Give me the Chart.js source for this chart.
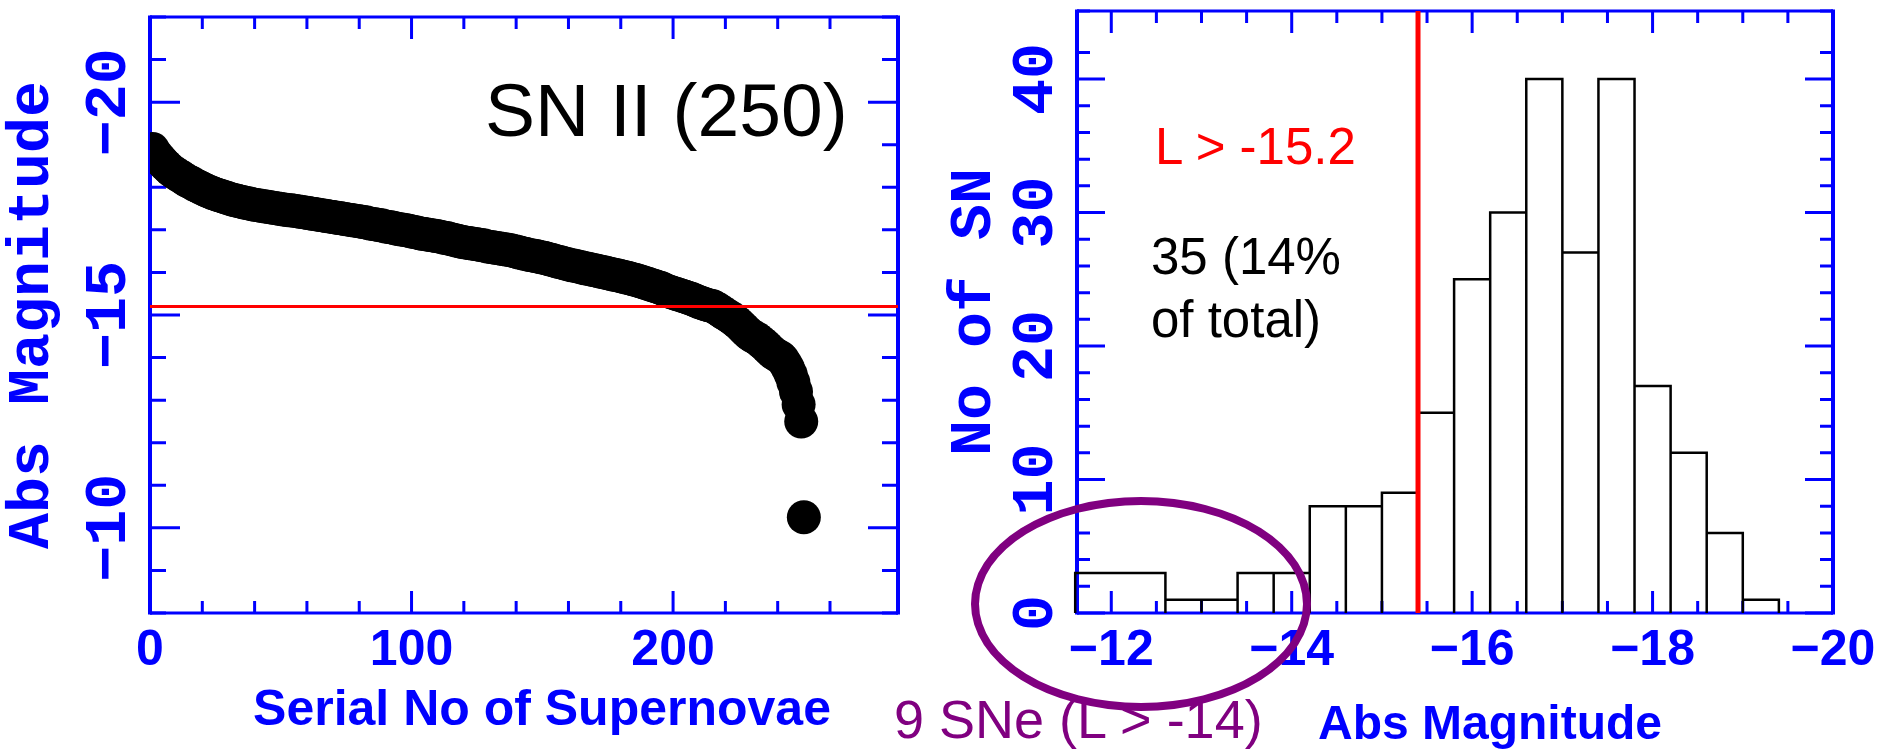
<!DOCTYPE html>
<html>
<head>
<meta charset="utf-8">
<title>SN II absolute magnitudes</title>
<script src="https://cdn.jsdelivr.net/npm/chart.js@4.4.1/dist/chart.umd.min.js"></script>
<style>
  html, body { margin: 0; padding: 0; background: #fff; }
  body { width: 1894px; height: 755px; position: relative; overflow: hidden; }
  canvas { position: absolute; top: 0; }
  #magChart { left: 0; }
  #histChart { left: 900px; }
  .note { position: absolute; font-family: 'Liberation Sans', Arial, sans-serif; white-space: nowrap; line-height: 1; }
  #snTitle { left: 485px; top: 73px; font-size: 75px; color: #000; }
  #cutLabel { left: 1155px; top: 121px; font-size: 51px; color: #ff0000; }
  #fracLabel { left: 1151px; top: 225px; font-size: 51px; line-height: 63px; color: #000; }
  #faintLabel { left: 894px; top: 692px; font-size: 54px; color: #800080; }
  #faintRing { position: absolute; left: 971px; top: 497px; width: 340px; height: 214px;
               box-sizing: border-box; border: 8px solid #800080; border-radius: 50%; }
</style>
</head>
<body>
<canvas id="magChart" width="915" height="755"></canvas>
<canvas id="histChart" width="994" height="755"></canvas>
<div class="note" id="snTitle">SN II (250)</div>
<div class="note" id="cutLabel">L &gt; -15.2</div>
<div class="note" id="fracLabel">35 (14%<br>of total)</div>
<div id="faintRing"></div>
<div class="note" id="faintLabel">9 SNe (L &gt; -14)</div>
<script>
// absolute magnitude of each SN II, sorted brightest first (serial no 1..250)
const magnitudes = [
  -18.90, -18.80, -18.72, -18.65, -18.58, -18.52, -18.46, -18.40, -18.36, -18.32,
  -18.28, -18.24, -18.20, -18.16, -18.13, -18.10, -18.06, -18.03, -18.00, -17.97,
  -17.94, -17.91, -17.89, -17.86, -17.84, -17.82, -17.80, -17.78, -17.76, -17.74,
  -17.72, -17.70, -17.69, -17.67, -17.66, -17.64, -17.63, -17.62, -17.60, -17.59,
  -17.58, -17.57, -17.56, -17.55, -17.54, -17.53, -17.52, -17.51, -17.50, -17.49,
  -17.48, -17.47, -17.46, -17.46, -17.45, -17.44, -17.43, -17.42, -17.41, -17.40,
  -17.39, -17.38, -17.37, -17.36, -17.35, -17.34, -17.33, -17.32, -17.31, -17.30,
  -17.29, -17.28, -17.27, -17.26, -17.25, -17.24, -17.23, -17.22, -17.21, -17.20,
  -17.19, -17.18, -17.17, -17.15, -17.14, -17.13, -17.12, -17.11, -17.10, -17.08,
  -17.07, -17.06, -17.05, -17.03, -17.02, -17.01, -17.00, -16.99, -16.98, -16.96,
  -16.95, -16.94, -16.92, -16.91, -16.90, -16.89, -16.88, -16.87, -16.86, -16.85,
  -16.84, -16.82, -16.81, -16.80, -16.78, -16.77, -16.75, -16.74, -16.72, -16.71,
  -16.70, -16.69, -16.68, -16.67, -16.66, -16.65, -16.64, -16.63, -16.61, -16.60,
  -16.59, -16.58, -16.57, -16.56, -16.55, -16.54, -16.53, -16.52, -16.50, -16.49,
  -16.47, -16.46, -16.44, -16.43, -16.41, -16.40, -16.39, -16.38, -16.36, -16.35,
  -16.34, -16.32, -16.30, -16.29, -16.27, -16.25, -16.24, -16.22, -16.20, -16.19,
  -16.17, -16.16, -16.15, -16.13, -16.12, -16.10, -16.09, -16.08, -16.06, -16.05,
  -16.04, -16.02, -16.01, -16.00, -15.98, -15.97, -15.95, -15.94, -15.93, -15.91,
  -15.90, -15.88, -15.87, -15.85, -15.83, -15.82, -15.80, -15.78, -15.76, -15.74,
  -15.72, -15.70, -15.68, -15.66, -15.64, -15.62, -15.58, -15.56, -15.54, -15.52,
  -15.50, -15.48, -15.46, -15.44, -15.42, -15.40, -15.38, -15.35, -15.33, -15.30,
  -15.28, -15.26, -15.24, -15.22, -15.21, -15.18, -15.14, -15.10, -15.06, -15.02,
  -14.98, -14.94, -14.90, -14.85, -14.80, -14.74, -14.68, -14.62, -14.56, -14.52,
  -14.48, -14.45, -14.40, -14.35, -14.30, -14.24, -14.18, -14.12, -14.08, -14.04,
  -14.01, -13.95, -13.85, -13.74, -13.60, -13.42, -13.20, -12.90, -12.50, -10.25
];
const cutMagSerial = -15.2;

// histogram: bin edges (abs magnitude) and number of SN per bin
const binEdges = [-11.6, -12.6, -13.0, -13.4, -13.8, -14.2, -14.6, -15.0, -15.4, -15.8,
                  -16.2, -16.6, -17.0, -17.4, -17.8, -18.2, -18.6, -19.0, -19.4];
const binCounts = [3, 1, 1, 3, 3, 8, 8, 9, 15, 25, 30, 40, 27, 40, 17, 12, 6, 1];
const cutMagHist = -15.4;

// labelled tick values
const serialLabels = [0, 100, 200];
const magLabels = [-20, -15, -10];
const histMagLabels = [-12, -14, -16, -18, -20];
const countLabels = [0, 10, 20, 30, 40];

const BLUE = '#0000ff';
const RED = '#ff0000';
const SANS = "'Liberation Sans', Arial, sans-serif";
const MONO = "'Liberation Mono', 'DejaVu Sans Mono', monospace";

const minus = v => (v < 0 ? '\u2212' + Math.abs(v) : String(v));

// blue box with inward ticks on all four sides, the red cut line and the x title
const frameAndTicks = {
    id: 'frameAndTicks',
    beforeDatasetsDraw(chart, args, opts) {
        const { ctx, chartArea: a } = chart;
        const xs = chart.scales.x;
        const ys = chart.scales.y;
        ctx.save();
        ctx.strokeStyle = BLUE;
        ctx.lineWidth = 3;
        ctx.beginPath();
        xs.ticks.forEach(t => {
            const px = xs.getPixelForValue(t.value);
            const len = t.label ? opts.xLong : opts.xShort;
            ctx.moveTo(px, a.bottom); ctx.lineTo(px, a.bottom - len);
            ctx.moveTo(px, a.top); ctx.lineTo(px, a.top + len);
        });
        ys.ticks.forEach(t => {
            const py = ys.getPixelForValue(t.value);
            const len = t.label ? opts.yLong : opts.yShort;
            ctx.moveTo(a.left, py); ctx.lineTo(a.left + len, py);
            ctx.moveTo(a.right, py); ctx.lineTo(a.right - len, py);
        });
        ctx.stroke();
        ctx.lineWidth = 4;
        ctx.beginPath();
        ctx.moveTo(a.left, a.top - 1.5); ctx.lineTo(a.left, a.bottom + 1.5);
        ctx.moveTo(a.right, a.top - 1.5); ctx.lineTo(a.right, a.bottom + 1.5);
        ctx.stroke();
        ctx.lineWidth = 3;
        ctx.beginPath();
        ctx.moveTo(a.left, a.top); ctx.lineTo(a.right, a.top);
        ctx.moveTo(a.left, a.bottom); ctx.lineTo(a.right, a.bottom);
        ctx.stroke();
        ctx.restore();
    },
    afterDatasetsDraw(chart, args, opts) {
        const { ctx, chartArea: a } = chart;
        ctx.save();
        ctx.strokeStyle = RED;
        ctx.lineWidth = opts.cutWidth;
        ctx.beginPath();
        if (opts.cutAxis === 'y') {
            const py = chart.scales.y.getPixelForValue(opts.cutValue);
            ctx.moveTo(a.left, py); ctx.lineTo(a.right, py);
        } else {
            const px = chart.scales.x.getPixelForValue(opts.cutValue);
            ctx.moveTo(px, a.top); ctx.lineTo(px, a.bottom);
        }
        ctx.stroke();

        // x axis title, set a little right of the axis centre as in the original
        ctx.fillStyle = BLUE;
        ctx.font = 'bold ' + opts.titleSize + 'px ' + SANS;
        ctx.textAlign = 'center';
        ctx.textBaseline = 'middle';
        ctx.fillText(opts.title, (a.left + a.right) / 2 + opts.titleDx, opts.titleY);
        ctx.restore();
    }
};

Chart.defaults.font.family = MONO;

// left panel: magnitude against serial number
new Chart(document.getElementById('magChart'), {
    type: 'scatter',
    data: {
        datasets: [{
            data: magnitudes.map((m, i) => ({ x: i + 1, y: m })),
            backgroundColor: '#000',
            borderWidth: 0,
            pointRadius: 17,
            pointHoverRadius: 17,
            clip: 0
        }]
    },
    options: {
        responsive: false,
        animation: false,
        devicePixelRatio: 1,
        events: [],
        layout: { padding: { top: 11, right: 8, bottom: 0, left: 0 } },
        plugins: {
            legend: { display: false },
            tooltip: { enabled: false },
            frameAndTicks: { xLong: 22, xShort: 12, yLong: 30, yShort: 16,
                             cutAxis: 'y', cutValue: cutMagSerial, cutWidth: 3,
                             title: 'Serial No of Supernovae', titleSize: 50, titleDx: 18, titleY: 711 }
        },
        scales: {
            x: {
                type: 'linear', min: 0, max: 286,
                grid: { display: false, drawTicks: false },
                border: { display: false },
                ticks: {
                    stepSize: 20, autoSkip: false, maxRotation: 0, padding: 13,
                    color: BLUE, font: { family: SANS, size: 50, weight: 'bold', lineHeight: 1 },
                    callback: v => (serialLabels.includes(v) ? String(v) : '')
                },
                afterFit: s => { s.height = 142; s.paddingLeft = 0; s.paddingRight = 0; }
            },
            y: {
                type: 'linear', reverse: true, min: -22, max: -8,
                grid: { display: false, drawTicks: false },
                border: { display: false },
                ticks: {
                    stepSize: 1, autoSkip: false, minRotation: 90, maxRotation: 90,
                    crossAlign: 'center', padding: -14,
                    color: BLUE, font: { family: MONO, size: 60, weight: 'bold', lineHeight: 1 },
                    callback: v => (magLabels.includes(v) ? minus(v) : '')
                },
                title: {
                    display: true, text: 'Abs Magnitude', color: BLUE,
                    font: { family: MONO, size: 60, weight: 'bold', lineHeight: 1 },
                    padding: { top: 3, bottom: 0 }
                },
                afterFit: s => { s.width = 150; s.paddingTop = 0; s.paddingBottom = 0; }
            }
        }
    },
    plugins: [frameAndTicks]
});

// right panel: histogram outline built from the bins
const histOutline = [];
binCounts.forEach((c, i) => {
    histOutline.push(
        { x: binEdges[i], y: 0 }, { x: binEdges[i], y: c },
        { x: binEdges[i + 1], y: c }, { x: binEdges[i + 1], y: 0 }
    );
});

new Chart(document.getElementById('histChart'), {
    type: 'line',
    data: {
        datasets: [{
            data: histOutline,
            borderColor: '#000',
            borderWidth: 2.5,
            pointRadius: 0,
            fill: false,
            tension: 0,
            clip: 5
        }]
    },
    options: {
        responsive: false,
        animation: false,
        devicePixelRatio: 1,
        events: [],
        layout: { padding: { top: 11, right: 61, bottom: 0, left: 0 } },
        plugins: {
            legend: { display: false },
            tooltip: { enabled: false },
            frameAndTicks: { xLong: 22, xShort: 12, yLong: 28, yShort: 13,
                             cutAxis: 'x', cutValue: cutMagHist, cutWidth: 5,
                             title: 'Abs Magnitude', titleSize: 48, titleDx: 35, titleY: 726 }
        },
        scales: {
            x: {
                type: 'linear', reverse: true, min: -20, max: -11.62,
                grid: { display: false, drawTicks: false },
                border: { display: false },
                ticks: {
                    stepSize: 0.5, autoSkip: false, includeBounds: false, maxRotation: 0, padding: 13,
                    color: BLUE, font: { family: SANS, size: 50, weight: 'bold', lineHeight: 1 },
                    callback: v => (histMagLabels.includes(v) ? minus(v) : '')
                },
                afterFit: s => { s.height = 142; s.paddingLeft = 0; s.paddingRight = 0; }
            },
            y: {
                type: 'linear', min: 0, max: 45.1,
                grid: { display: false, drawTicks: false },
                border: { display: false },
                ticks: {
                    stepSize: 2, autoSkip: false, minRotation: 90, maxRotation: 90,
                    crossAlign: 'center', padding: 4,
                    color: BLUE, font: { family: MONO, size: 60, weight: 'bold', lineHeight: 1 },
                    callback: v => (countLabels.includes(v) ? String(v) : '')
                },
                title: {
                    display: true, text: 'No of SN', color: BLUE,
                    font: { family: MONO, size: 60, weight: 'bold', lineHeight: 1 },
                    padding: { top: 45, bottom: 0 }
                },
                afterFit: s => { s.width = 177; s.paddingTop = 0; s.paddingBottom = 0; }
            }
        }
    },
    plugins: [frameAndTicks]
});
</script>
</body>
</html>
